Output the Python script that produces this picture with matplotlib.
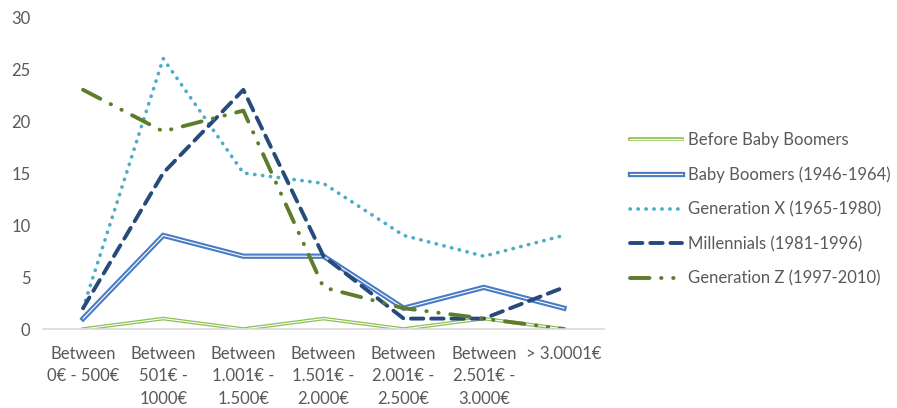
import matplotlib
matplotlib.use('Agg')
import matplotlib.pyplot as plt
from matplotlib.legend_handler import HandlerTuple

# income brackets on the x axis
categories = ["Between\n0€ - 500€", "Between\n501€ -\n1000€", "Between\n1.001€ -\n1.500€",
              "Between\n1.501€ -\n2.000€", "Between\n2.001€ -\n2.500€",
              "Between\n2.501€ -\n3.000€", "> 3.0001€"]

before_boomers = [0, 1, 0, 1, 0, 1, 0]
baby_boomers = [1, 9, 7, 7, 2, 4, 2]
generation_x = [2, 26, 15, 14, 9, 7, 9]
millennials = [2, 15, 23, 7, 1, 1, 4]
generation_z = [23, 19, 21, 4, 2, 1, 0]

labels = ["Before Baby Boomers", "Baby Boomers (1946-1964)", "Generation X (1965-1980)",
          "Millennials (1981-1996)", "Generation Z (1997-2010)"]

plt.rcParams['font.family'] = ['Lato', 'DejaVu Sans']
text_col = "#595959"

fig = plt.figure(figsize=(8.97, 4.08), dpi=100)
ax = fig.add_axes([43/897, 79/408, 561/897, 312/408])
x = list(range(len(categories)))

# double lines: coloured line with a thin white stripe on top
g1, = ax.plot(x, before_boomers, color="#8DC052", lw=2.6, solid_joinstyle='miter')
g2, = ax.plot(x, before_boomers, color="white", lw=0.8, solid_joinstyle='miter')
b1, = ax.plot(x, baby_boomers, color="#4A7CC6", lw=3.8, solid_joinstyle='miter')
b2, = ax.plot(x, baby_boomers, color="white", lw=0.8, solid_joinstyle='miter')

gx, = ax.plot(x, generation_x, color="#4AADC9", lw=2.6,
              linestyle=(0, (0.1, 2.1)), dash_capstyle='round')
mil, = ax.plot(x, millennials, color="#264A7A", lw=2.8,
               linestyle=(0, (3.2, 2.0)), dash_capstyle='round')
gz, = ax.plot(x, generation_z, color="#5E7D2C", lw=2.8,
              linestyle=(0, (5.0, 3.0, 0.1, 3.0, 0.1, 3.0)), dash_capstyle='round')

ax.set_xlim(-0.5, 6.5)
ax.set_ylim(0, 30)
ax.set_yticks(range(0, 31, 5))
ax.set_xticks(x)
ax.set_xticklabels(categories, linespacing=1.5)
ax.tick_params(axis='x', length=0, pad=12, labelsize=12, labelcolor=text_col)
ax.tick_params(axis='y', length=0, pad=9, labelsize=12, labelcolor=text_col)

for s in ['top', 'right', 'left']:
    ax.spines[s].set_visible(False)
ax.spines['bottom'].set_color("#D9D9D9")
ax.spines['bottom'].set_linewidth(1.2)

fig.legend([(g1, g2), (b1, b2), gx, mil, gz], labels,
           handler_map={tuple: HandlerTuple(ndivide=1)},
           loc='center left', bbox_to_anchor=(630/897, 0.487),
           frameon=False, borderpad=0, borderaxespad=0,
           handlelength=3.1, handletextpad=0.35, labelspacing=1.1,
           fontsize=12, labelcolor=text_col)

fig.savefig("out.png", dpi=100)
